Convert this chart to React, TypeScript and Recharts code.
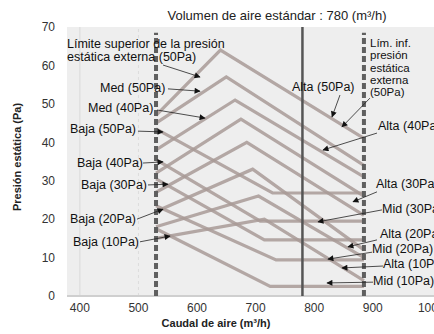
import React from 'react';
import { LineChart, Line, XAxis, YAxis, ReferenceLine, ReferenceArea } from 'recharts';

const flowTicks = [400, 500, 600, 700, 800, 900, 1000];
const pressureTicks = [0, 10, 20, 30, 40, 50, 60, 70];

const minFlow = 530; // límite inferior de caudal (línea discontinua)
const standardFlow = 780;
const maxFlow = 885; // límite superior de caudal (línea discontinua)

// curvas en forma de "^" (suben desde 530, pico, bajan hasta 885)
const alta50 = [{ q: 530, p: 47 }, { q: 640, p: 64 }, { q: 885, p: 41 }];
const med50 = [{ q: 530, p: 45 }, { q: 650, p: 57 }, { q: 885, p: 34 }];
const med40 = [{ q: 530, p: 38 }, { q: 665, p: 51 }, { q: 885, p: 31 }];
const alta40 = [{ q: 530, p: 32 }, { q: 675, p: 46 }, { q: 885, p: 26 }];
const alta30 = [{ q: 530, p: 27 }, { q: 685, p: 40 }, { q: 885, p: 21 }];
const mid30 = [{ q: 530, p: 22 }, { q: 695, p: 33 }, { q: 885, p: 12 }];
const alta20 = [{ q: 530, p: 18 }, { q: 705, p: 26 }, { q: 885, p: 10 }];
const alta10 = [{ q: 530, p: 15 }, { q: 715, p: 20 }, { q: 885, p: 4 }];

// curvas "Baja" (bajan desde 530 y quedan horizontales)
const baja50 = [{ q: 530, p: 43.5 }, { q: 729, p: 26.8 }, { q: 885, p: 26.8 }];
const baja40 = [{ q: 530, p: 35.5 }, { q: 708, p: 19.5 }, { q: 885, p: 19.5 }];
const baja30 = [{ q: 530, p: 30.5 }, { q: 715, p: 14.6 }, { q: 885, p: 14.6 }];
const baja20 = [{ q: 530, p: 23.5 }, { q: 735, p: 9.4 }, { q: 885, p: 9.4 }];
const baja10 = [{ q: 530, p: 17.5 }, { q: 725, p: 2.5 }, { q: 885, p: 2.5 }];

const curves = [alta50, med50, med40, alta40, alta30, mid30, alta20, alta10, baja50, baja40, baja30, baja20, baja10];

// flechas de las etiquetas: [q cola, p cola, q punta, p punta]
const arrows = [
  [541.9, 60.1, 605.1, 57.0],
  [550.4, 53.9, 605.1, 53.3],
  [531.7, 48.4, 613.6, 46.3],
  [499.2, 42.9, 541.9, 42.7],
  [507.8, 34.6, 541.9, 34.9],
  [516.3, 28.9, 550.4, 29.1],
  [497.5, 20.0, 541.9, 22.6],
  [502.6, 14.1, 553.9, 15.6],
  [844.1, 52.3, 830.5, 46.6],
  [895.3, 51.5, 847.5, 44.0],
  [907.3, 42.4, 815.1, 38.0],
  [907.3, 27.1, 866.3, 24.5],
  [915.8, 22.4, 806.6, 19.3],
  [907.3, 14.6, 857.8, 12.8],
  [898.8, 11.4, 823.6, 9.6],
  [917.5, 7.8, 847.5, 7.3],
  [900.5, 3.6, 821.9, 3.4],
];

const labels: [string, number, number][] = [
  ['Límite superior de la presión', 67, 44],
  ['estática externa (50Pa)', 67, 57],
  ['Med (50Pa)', 100, 88],
  ['Med (40Pa)', 88, 108],
  ['Baja (50Pa)', 70, 129],
  ['Baja (40Pa)', 77, 163],
  ['Baja (30Pa)', 81, 185],
  ['Baja (20Pa)', 70, 219],
  ['Baja (10Pa)', 73, 242],
  ['Alta (50Pa)', 292, 87],
  ['Alta (40Pa)', 378, 126],
  ['Alta (30Pa)', 376, 184],
  ['Mid (30Pa)', 382, 209],
  ['Alta (20Pa)', 380, 234],
  ['Mid (20Pa)', 372, 249],
  ['Alta (10Pa)', 383, 264],
  ['Mid (10Pa)', 373, 281],
];

const lowerLimitNote = ['Lím. inf.', 'presión', 'estática', 'externa', '(50Pa)'];

const font = '"Liberation Sans", Arial, sans-serif';

export default function App() {
  return (
    <div style={{ position: 'absolute', left: 0, top: 0, width: 434, height: 334, overflow: 'hidden', background: '#fff', fontFamily: font }}>
      <svg width={0} height={0} style={{ position: 'absolute' }}>
        <defs>
          <marker id="arrowHead" viewBox="0 0 10 10" refX="9" refY="5" markerWidth="7" markerHeight="6" orient="auto" markerUnits="userSpaceOnUse">
            <path d="M0,0 L10,5 L0,10 z" fill="#111" />
          </marker>
        </defs>
      </svg>
      <LineChart width={450} height={334} margin={{ top: 27, right: 7, bottom: 0, left: 0 }}>
        <ReferenceArea x1={378} x2={1020} y1={0} y2={70} fill="#eeeeee" fillOpacity={1} stroke="none" />
        <XAxis type="number" dataKey="q" domain={[378, 1020]} ticks={flowTicks} allowDataOverflow
          height={38} tickLine={false} axisLine={false} tickMargin={1}
          tick={{ fontSize: 12, fill: '#333', fontFamily: font }} />
        <YAxis type="number" dataKey="p" domain={[0, 70]} ticks={pressureTicks} allowDataOverflow
          width={67} tickLine={false} axisLine={false} tickMargin={6}
          tick={{ fontSize: 12, fill: '#333', fontFamily: font }} />
        <ReferenceLine x={400} stroke="#d9d9d9" strokeWidth={1} />
        <ReferenceLine x={500} stroke="#dcdcdc" strokeWidth={1} strokeDasharray="3 3" />
        <ReferenceLine y={0} stroke="#cfcfcf" strokeWidth={2} />
        {curves.map((c, i) => (
          <Line key={i} data={c} dataKey="p" type="linear" stroke="#a89a96" strokeWidth={3.2}
            strokeOpacity={0.85} dot={false} isAnimationActive={false} />
        ))}
        <ReferenceLine segment={[{ x: minFlow, y: 0 }, { x: minFlow, y: 68.5 }]} stroke="#5f5f5f" strokeWidth={4} strokeDasharray="6 3" />
        <ReferenceLine segment={[{ x: maxFlow, y: 0 }, { x: maxFlow, y: 68.5 }]} stroke="#5f5f5f" strokeWidth={4} strokeDasharray="6 3" />
        <ReferenceLine x={standardFlow} stroke="#555" strokeWidth={2.5} />
        {arrows.map((a, i) => (
          <ReferenceLine key={'a' + i} segment={[{ x: a[0], y: a[1] }, { x: a[2], y: a[3] }]}
            stroke="#222" strokeWidth={0.8} markerEnd="url(#arrowHead)" ifOverflow="visible" />
        ))}
      </LineChart>
      <svg width={434} height={334} style={{ position: 'absolute', left: 0, top: 0, pointerEvents: 'none' }}>
        <rect x={150} y={3} width={248} height={23} fill="#fff" />
        <text x={277} y={15} textAnchor="middle" dominantBaseline="central" fontSize={13} fill="#222" fontFamily={font}>
          Volumen de aire estándar : 780 (m³/h)
        </text>
        {labels.map(([t, x, y], i) => (
          <text key={i} x={x} y={y} dominantBaseline="central" fontSize={12.5} fill="#111" fontFamily={font}>{t}</text>
        ))}
        {lowerLimitNote.map((t, i) => (
          <text key={'n' + i} x={370} y={43 + i * 12.3} dominantBaseline="central" fontSize={11.5} fill="#111" fontFamily={font}>{t}</text>
        ))}
        <text x={216} y={323} textAnchor="middle" dominantBaseline="central" fontSize={11} fontWeight="bold" fill="#222" fontFamily={font}>
          Caudal de aire (m³/h)
        </text>
        <text x={17} y={157} textAnchor="middle" dominantBaseline="central" fontSize={11} fontWeight="bold" fill="#222" fontFamily={font}
          transform="rotate(-90 17 157)">
          Presión estática (Pa)
        </text>
      </svg>
    </div>
  );
}
